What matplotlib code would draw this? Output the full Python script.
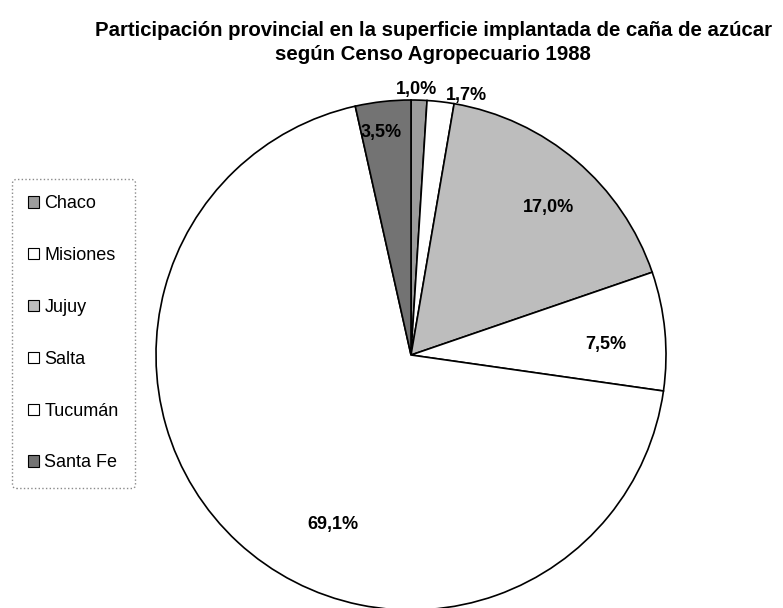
import numpy as np
import matplotlib
matplotlib.use("Agg")
import matplotlib.pyplot as plt

plt.rcParams["font.family"] = ["Liberation Sans", "DejaVu Sans"]

provincias = ["Chaco", "Misiones", "Jujuy", "Salta", "Tucumán", "Santa Fe"]
porcentajes = [1.0, 1.7, 17.0, 7.5, 69.1, 3.5]
etiquetas = ["1,0%", "1,7%", "17,0%", "7,5%", "69,1%", "3,5%"]

colores = ["#9c9c9c", "#ffffff", "#bdbdbd", "#ffffff", "#ffffff", "#737373"]
# where each value label sits: distance from centre (in radii) and angular nudge
dist_etiqueta = [1.04, 1.04, 0.79, 0.765, 0.73, 0.88]
giro_etiqueta = [0.7, -5.5, -2.5, -2.4, 18.0, 1.4]

fig = plt.figure(figsize=(7.83, 6.08), dpi=100)
ax = fig.add_axes([156 / 783, -2 / 608, 510 / 783, 510 / 608])

wedges, _ = ax.pie(porcentajes, colors=colores, startangle=90, counterclock=False,
                   wedgeprops=dict(edgecolor="black", linewidth=1.2))
ax.set_xlim(-1.0, 1.0)
ax.set_ylim(-1.0, 1.0)
ax.set_aspect("equal")

for w, txt, r, d in zip(wedges, etiquetas, dist_etiqueta, giro_etiqueta):
    ang = np.deg2rad((w.theta1 + w.theta2) / 2 + d)
    ax.text(r * np.cos(ang), r * np.sin(ang), txt, ha="center", va="center",
            fontsize=13, fontweight="bold", clip_on=False)

fig.text(433 / 783, 1 - 31 / 608,
         "Participación provincial en la superficie implantada de caña de azúcar",
         ha="center", va="center", fontsize=14.7, fontweight="bold")
fig.text(433 / 783, 1 - 54 / 608, "según Censo Agropecuario 1988",
         ha="center", va="center", fontsize=14.7, fontweight="bold")

leg = fig.legend(wedges, provincias, loc="upper left",
                 bbox_to_anchor=(12 / 783, 1 - 179 / 608), fontsize=13,
                 handlelength=0.6, handleheight=0.6, handletextpad=0.3,
                 labelspacing=1.93, borderpad=0.9, borderaxespad=0,
                 fancybox=True, framealpha=1)
frame = leg.get_frame()
frame.set_edgecolor("#8a8a8a")
frame.set_linestyle(":")
frame.set_linewidth(1.0)
for h in leg.legend_handles:
    h.set_linewidth(0.8)

fig.savefig("out.png", dpi=100)
